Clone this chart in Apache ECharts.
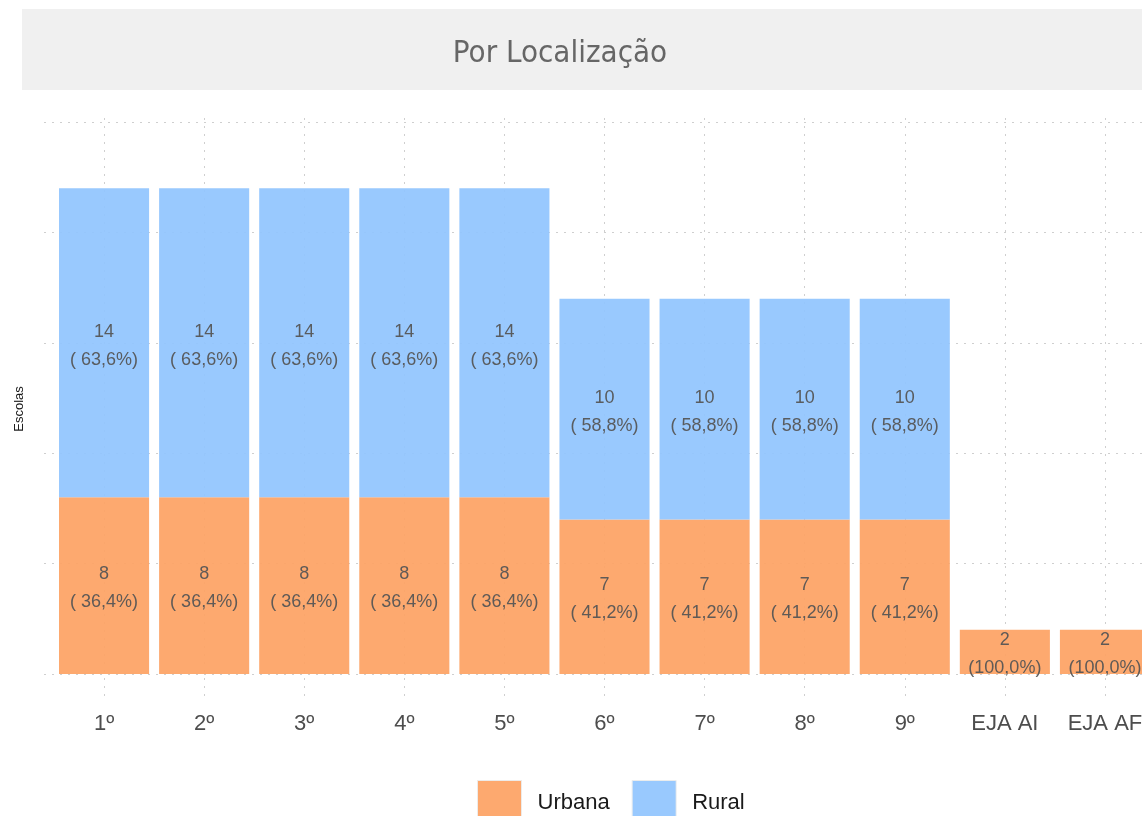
<!DOCTYPE html>
<html>
<head>
<meta charset="utf-8">
<script src="https://cdn.jsdelivr.net/npm/echarts@6/dist/echarts.min.js"></script>
<style>
  html, body { margin: 0; padding: 0; background: #fff; }
  #chart { width: 1142px; height: 816px; }
</style>
</head>
<body>
<div id="chart"></div>
<script>
// Séries / anos de ensino
const categories = ['1º', '2º', '3º', '4º', '5º', '6º', '7º', '8º', '9º', 'EJA AI', 'EJA AF'];
// Número de escolas por localização
const urbana = [8, 8, 8, 8, 8, 7, 7, 7, 7, 2, 2];
const rural = [14, 14, 14, 14, 14, 10, 10, 10, 10, 0, 0];
const yTicks = { min: 0, max: 25, interval: 5 };

const totals = categories.map((_, i) => urbana[i] + rural[i]);

function pctLabel(v, i) {
  if (!v) return '';
  const p = (100 * v / totals[i]).toFixed(1).replace('.', ',');
  const padded = p.length < 5 ? ' '.repeat(5 - p.length) + p : p;
  return v + '\n(' + padded + '%)';
}

const font = "'Liberation Sans', Arial, Helvetica, sans-serif";
const gridColor = '#cfcfcf';

const labelStyle = {
  show: true,
  position: 'inside',
  offset: [0, 2],
  fontFamily: font,
  fontSize: 18,
  lineHeight: 28,
  color: '#555555'
};

const chart = echarts.init(document.getElementById('chart'), null, { renderer: 'canvas' });

chart.setOption({
  backgroundColor: '#ffffff',
  animation: false,
  graphic: [
    {
      type: 'rect',
      shape: { x: 22, y: 9, width: 1130, height: 81 },
      style: { fill: '#f0f0f0' },
      z: -10
    },
    {
      type: 'text',
      x: 560, y: 54,
      style: {
        text: 'Por Localização',
        fontFamily: "'Liberation Sans Narrow', 'DejaVu Sans Condensed', Roboto, sans-serif",
        fontSize: 31,
        fill: '#666666',
        align: 'center',
        verticalAlign: 'middle'
      }
    },
    {
      type: 'text',
      x: 19, y: 409,
      rotation: Math.PI / 2,
      style: {
        text: 'Escolas',
        fontFamily: font,
        fontSize: 13,
        fill: '#1a1a1a',
        align: 'center',
        verticalAlign: 'middle'
      }
    }
  ],
  legend: {
    data: ['Urbana', 'Rural'],
    left: 472,
    top: 775,
    itemWidth: 44,
    itemHeight: 44,
    itemGap: 22,
    icon: 'rect',
    itemStyle: { borderColor: '#ececec', borderWidth: 1 },
    textStyle: { fontFamily: font, fontSize: 22, color: '#1a1a1a', padding: [0, 0, 0, 11] }
  },
  grid: [
    { left: 54, width: 1101, top: 122, height: 552, outerBoundsMode: 'none' },
    { left: 44, width: 1121, top: 122, height: 552, outerBoundsMode: 'none' }
  ],
  xAxis: [
    {
      type: 'category',
      gridIndex: 0,
      data: categories,
      position: 'bottom',
      axisLine: { show: false },
      axisTick: { show: false },
      splitLine: { show: false },
      axisLabel: { fontFamily: font, fontSize: 22, color: '#4d4d4d', margin: 39, interval: 0 }
    },
    {
      type: 'category',
      gridIndex: 0,
      data: categories,
      position: 'top',
      offset: 4,
      axisLine: { show: false },
      axisLabel: { show: false },
      splitLine: { show: false },
      axisTick: {
        show: true,
        inside: true,
        alignWithLabel: true,
        length: 583,
        lineStyle: { color: gridColor, width: 1, type: [2, 6] }
      }
    },
    {
      type: 'value',
      gridIndex: 1,
      show: false,
      min: 0,
      max: 1
    }
  ],
  yAxis: [
    {
      type: 'value',
      gridIndex: 0,
      min: yTicks.min,
      max: yTicks.max,
      interval: yTicks.interval,
      axisLine: { show: false },
      axisTick: { show: false },
      axisLabel: { show: false },
      splitLine: { show: false }
    },
    {
      type: 'value',
      gridIndex: 1,
      min: yTicks.min,
      max: yTicks.max,
      interval: yTicks.interval,
      axisLine: { show: false },
      axisTick: { show: false },
      axisLabel: { show: false },
      splitLine: { show: true, lineStyle: { color: gridColor, width: 1, type: [2, 6] } }
    }
  ],
  series: [
    {
      name: 'Urbana',
      type: 'bar',
      stack: 'total',
      xAxisIndex: 0,
      yAxisIndex: 0,
      barWidth: '90%',
      data: urbana,
      itemStyle: { color: '#fda466', opacity: 0.94 },
      label: Object.assign({}, labelStyle, {
        formatter: p => pctLabel(p.value, p.dataIndex)
      })
    },
    {
      name: 'Rural',
      type: 'bar',
      stack: 'total',
      xAxisIndex: 0,
      yAxisIndex: 0,
      barWidth: '90%',
      data: rural,
      itemStyle: { color: '#93c6fe', opacity: 0.94 },
      label: Object.assign({}, labelStyle, {
        offset: [0, 3],
        formatter: p => pctLabel(p.value, p.dataIndex)
      })
    }
  ]
});
</script>
</body>
</html>
